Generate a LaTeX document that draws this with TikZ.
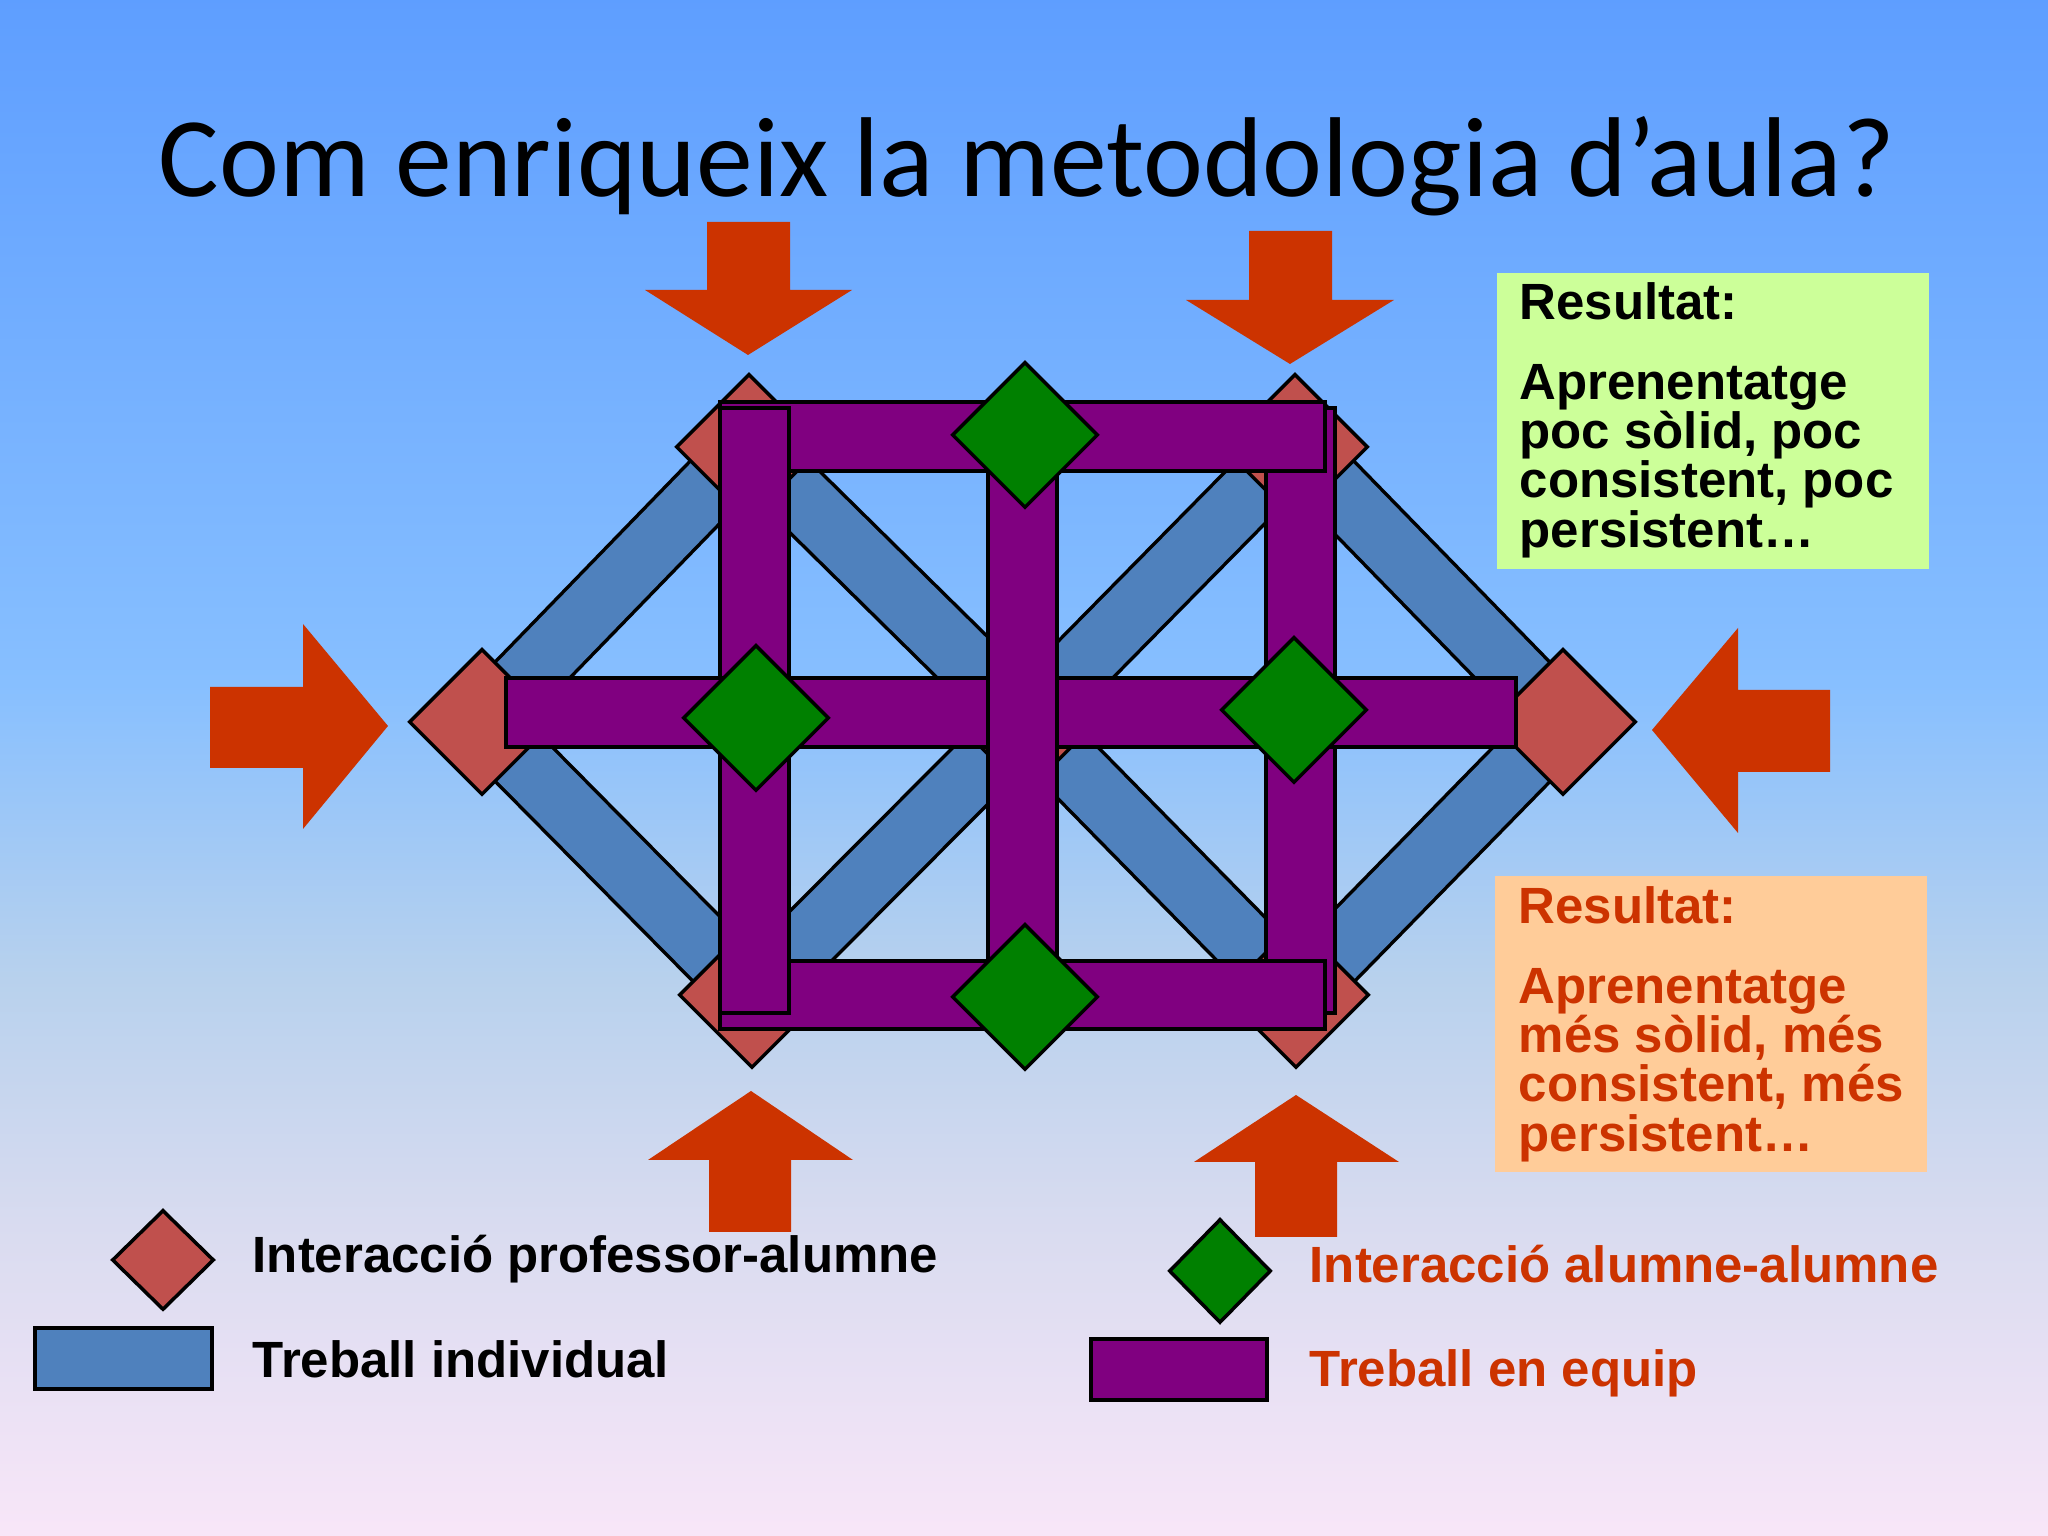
\documentclass[tikz,border=0pt]{standalone}
\usepackage{fontspec}
\setmainfont{Liberation Sans}
\newfontfamily\titlefont{Carlito}
\usepackage{xcolor}
\usetikzlibrary{shapes.geometric}
\definecolor{profred}{HTML}{C0504D}
\definecolor{indivblue}{HTML}{4F81BD}
\definecolor{teampurple}{HTML}{800080}
\definecolor{pairgreen}{HTML}{008000}
\definecolor{arrowred}{HTML}{CC3300}
\definecolor{poorgreen}{HTML}{CCFF99}
\definecolor{goodorange}{HTML}{FFCC99}
\pgfdeclareverticalshading{slidebg}{100bp}{rgb(0bp)=(0.973,0.902,0.973); rgb(25bp)=(0.973,0.902,0.973); rgb(35.1bp)=(0.85,0.86,0.94); rgb(43.2bp)=(0.72,0.82,0.93); rgb(52.7bp)=(0.53,0.75,1); rgb(75bp)=(0.37,0.62,1); rgb(100bp)=(0.37,0.62,1)}

\tikzset{
	prof/.style={diamond,draw=black,line width=1pt,fill=profred,inner sep=0pt,minimum width=1.46cm,minimum height=1.46cm},
	pair/.style={prof,fill=pairgreen},
	indiv/.style={draw=black,double=indivblue,double distance=0.61cm,line width=1pt},
	team/.style={draw=black,fill=teampurple,line width=1pt},
	bigarrow/.style={fill=arrowred},
	legend/.style={anchor=base west,inner sep=0pt,font=\fontsize{14.5}{17}\selectfont\bfseries},
	result/.style={anchor=north west,align=left,inner sep=0pt,font=\fontsize{14.5}{14}\selectfont\bfseries}
}

\begin{document}
\begin{tikzpicture}
	\fill[shading=slidebg] (0,0) rectangle (20.48,15.36);
	\useasboundingbox (0,0) rectangle (20.48,15.36);
	%
	\node[anchor=base,font=\titlefont\fontsize{32.3}{38}\selectfont] (title) at (10.27,13.39) {Com enriqueix la metodologia d’aula?};
	%
	\coordinate (pL) at (4.82,8.14);
	\coordinate (pTL) at (7.49,10.89);
	\coordinate (pTR) at (12.95,10.89);
	\coordinate (pR) at (15.63,8.14);
	\coordinate (pBL) at (7.52,5.41);
	\coordinate (pBR) at (12.96,5.41);
	\coordinate (pC) at (10.26,8.16);
	%
	\draw[indiv] (pL) -- (pTL);
	\draw[indiv] (pTL) -- (pC);
	\draw[indiv] (pC) -- (pTR);
	\draw[indiv] (pTR) -- (pR);
	\draw[indiv] (pL) -- (pBL);
	\draw[indiv] (pBL) -- (pC);
	\draw[indiv] (pC) -- (pBR);
	\draw[indiv] (pBR) -- (pR);
	%
	\node[prof] (dL) at (pL) {};
	\node[prof] (dTL) at (pTL) {};
	\node[prof] (dTR) at (pTR) {};
	\node[prof] (dR) at (pR) {};
	\node[prof] (dBL) at (pBL) {};
	\node[prof] (dBR) at (pBR) {};
	\node[prof] (dC) at (pC) {};
	%
	\draw[team] (12.66,11.28) rectangle (13.35,5.23);
	\draw[team] (7.20,11.34) rectangle (13.25,10.65);
	\draw[team] (7.20,5.75) rectangle (13.25,5.07);
	\draw[team] (7.20,11.28) rectangle (7.89,5.23);
	\draw[team] (5.06,8.58) rectangle (15.16,7.89);
	\draw[team] (9.88,10.65) rectangle (10.57,5.75);
	%
	\node[pair] (gT) at (10.25,11.01) {};
	\node[pair] (gB) at (10.25,5.39) {};
	\node[pair] (gL) at (7.56,8.18) {};
	\node[pair] (gR) at (12.94,8.26) {};
	%
	\fill[bigarrow] (7.07,13.14) -- (7.90,13.14) -- (7.90,12.46) -- (8.52,12.46) -- (7.48,11.81) -- (6.45,12.46) -- (7.07,12.46) -- cycle;
	\fill[bigarrow] (12.49,13.05) -- (13.32,13.05) -- (13.32,12.36) -- (13.94,12.36) -- (12.90,11.72) -- (11.86,12.36) -- (12.49,12.36) -- cycle;
	\fill[bigarrow] (2.10,8.49) -- (3.03,8.49) -- (3.03,9.12) -- (3.88,8.10) -- (3.03,7.07) -- (3.03,7.68) -- (2.10,7.68) -- cycle;
	\fill[bigarrow] (18.30,8.46) -- (17.38,8.46) -- (17.38,9.08) -- (16.52,8.06) -- (17.38,7.03) -- (17.38,7.64) -- (18.30,7.64) -- cycle;
	\fill[bigarrow] (7.09,3.04) -- (7.91,3.04) -- (7.91,3.76) -- (8.53,3.76) -- (7.51,4.45) -- (6.48,3.76) -- (7.09,3.76) -- cycle;
	\fill[bigarrow] (12.55,2.99) -- (13.37,2.99) -- (13.37,3.74) -- (13.99,3.74) -- (12.96,4.41) -- (11.94,3.74) -- (12.55,3.74) -- cycle;
	%
	\fill[poorgreen] (14.97,9.67) rectangle (19.29,12.63);
	\node[result] (poor) at (15.19,12.54) {Resultat:\\[8.7pt]Aprenentatge\\poc sòlid, poc\\consistent, poc\\persistent…};
	\fill[goodorange] (14.95,3.64) rectangle (19.27,6.60);
	\node[result,text=arrowred] (good) at (15.18,6.50) {Resultat:\\[8.7pt]Aprenentatge\\més sòlid, més\\consistent, més\\persistent…};
	%
	\node[prof,minimum width=1.02cm,minimum height=1.0cm] (kprof) at (1.63,2.76) {};
	\node[legend] (lprof) at (2.52,2.63) {Interacció professor-alumne};
	\draw[team,fill=indivblue] (0.35,1.47) rectangle (2.12,2.08);
	\node[legend] (lindiv) at (2.52,1.58) {Treball individual};
	\node[pair,minimum width=1.02cm,minimum height=1.04cm] (kpair) at (12.20,2.65) {};
	\node[legend,text=arrowred] (lpair) at (13.09,2.53) {Interacció alumne-alumne};
	\draw[team] (10.91,1.36) rectangle (12.67,1.97);
	\node[legend,text=arrowred] (lteam) at (13.09,1.49) {Treball en equip};
\end{tikzpicture}
\end{document}
